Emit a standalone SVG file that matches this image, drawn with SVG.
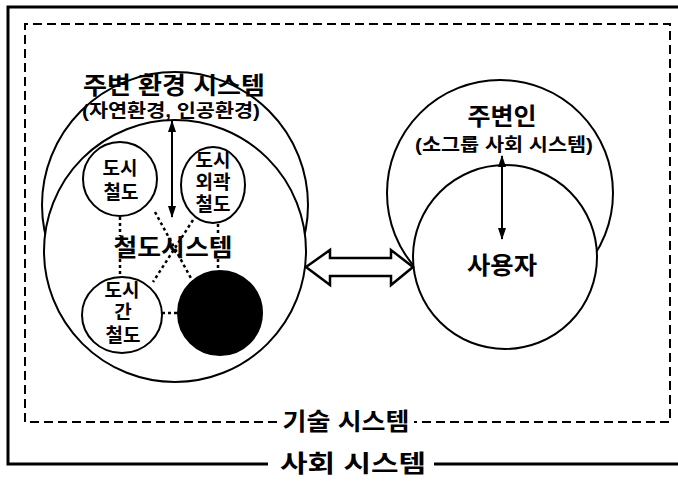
<svg xmlns="http://www.w3.org/2000/svg" width="678" height="481" viewBox="0 0 678 481">
  <style>
    text { font-family: "Liberation Sans", "Noto Sans CJK KR", sans-serif; font-weight: 700; fill: #000; text-anchor: middle; dominant-baseline: central; }
    .ring { fill: #fff; stroke: #000; stroke-width: 2; }
    .dash { fill: none; stroke: #000; stroke-width: 2; stroke-dasharray: 9 5; }
    .dot { fill: none; stroke: #000; stroke-width: 2.5; stroke-dasharray: 3 3; }
    .arr { fill: none; stroke: #000; stroke-width: 2; marker-start: url(#ah); marker-end: url(#ah); }
    .big { font-size: 24px; }
    .mid { font-size: 18px; }
    .sm { font-size: 19px; }
  </style>
  <defs>
    <marker id="ah" viewBox="0 0 12 8" refX="11" refY="4" markerWidth="12" markerHeight="8" markerUnits="userSpaceOnUse" orient="auto-start-reverse">
      <path d="M0,0 L12,4 L0,8 z" fill="#000"/>
    </marker>
  </defs>
  <rect width="678" height="481" fill="#fff"/>

  <g id="social-system">
    <path d="M678,7 L8,7 L8,464 L268,464 M434,464 L678,464" fill="none" stroke="#000" stroke-width="3"/>
    <text x="353" y="463" class="big" font-size="26" textLength="146" lengthAdjust="spacingAndGlyphs">사회 시스템</text>
  </g>

  <g id="tech-system">
    <path d="M277,422 L25,422 L25,24 L670,24 L670,422 L414,422" class="dash"/>
    <text x="346" y="421" class="big" textLength="127" lengthAdjust="spacingAndGlyphs">기술 시스템</text>
  </g>

  <g id="env-system">
    <circle cx="175" cy="205" r="133" class="ring"/>
    <text x="174" y="85" class="big" textLength="182" lengthAdjust="spacingAndGlyphs">주변 환경 시스템</text>
    <text x="171" y="111" class="mid" textLength="178" lengthAdjust="spacingAndGlyphs">(자연환경, 인공환경)</text>
  </g>

  <g id="rail-system">
    <circle cx="175" cy="251" r="131" class="ring"/>
    <text x="173" y="247" class="big" textLength="119" lengthAdjust="spacingAndGlyphs">철도시스템</text>
  </g>

  <g id="urban-rail">
    <circle cx="120" cy="179" r="37" class="ring"/>
    <text x="120" y="168" class="sm">도시</text>
    <text x="121" y="192" class="sm">철도</text>
  </g>

  <g id="suburban-rail">
    <ellipse cx="213" cy="185" rx="32" ry="38" class="ring"/>
    <text x="213" y="160" class="sm">도시</text>
    <text x="213" y="182" class="sm">외곽</text>
    <text x="213" y="204" class="sm">철도</text>
  </g>

  <g id="intercity-rail">
    <ellipse cx="122" cy="315" rx="40" ry="38" class="ring"/>
    <text x="122" y="290" class="sm">도시</text>
    <text x="123" y="312" class="sm">간</text>
    <text x="123" y="335" class="sm">철도</text>
  </g>

  <g id="black-node">
    <circle cx="220" cy="313" r="42" fill="#000" stroke="#000" stroke-width="2"/>
  </g>

  <g id="neighbors">
    <circle cx="500" cy="193" r="113" class="ring"/>
    <text x="502" y="116" class="big" font-size="22" textLength="69" lengthAdjust="spacingAndGlyphs">주변인</text>
    <text x="504" y="145" class="mid" textLength="178" lengthAdjust="spacingAndGlyphs">(소그룹 사회 시스템)</text>
  </g>

  <g id="user">
    <circle cx="505" cy="257" r="92" class="ring"/>
    <text x="502" y="265" class="big" textLength="70" lengthAdjust="spacingAndGlyphs">사용자</text>
  </g>

  <g id="connectors">
    <path d="M120,217 L120,236 M120,259 L120,277" class="dot"/>
    <path d="M218,224 L218,236 M218,259 L218,272" class="dot"/>
    <path d="M155,212 L193,282" class="dot"/>
    <path d="M193,220 L153,282" class="dot"/>
    <path d="M162,313 L178,313" class="dot"/>
    <line x1="172" y1="121" x2="172" y2="217" class="arr"/>
    <line x1="502" y1="156" x2="502" y2="239" class="arr"/>
    <polygon points="306,267 330,250 330,258 391,258 391,250 413,267 391,285 391,276 330,276 330,285" fill="#fff" stroke="#000" stroke-width="2.5" stroke-linejoin="miter"/>
  </g>
</svg>
